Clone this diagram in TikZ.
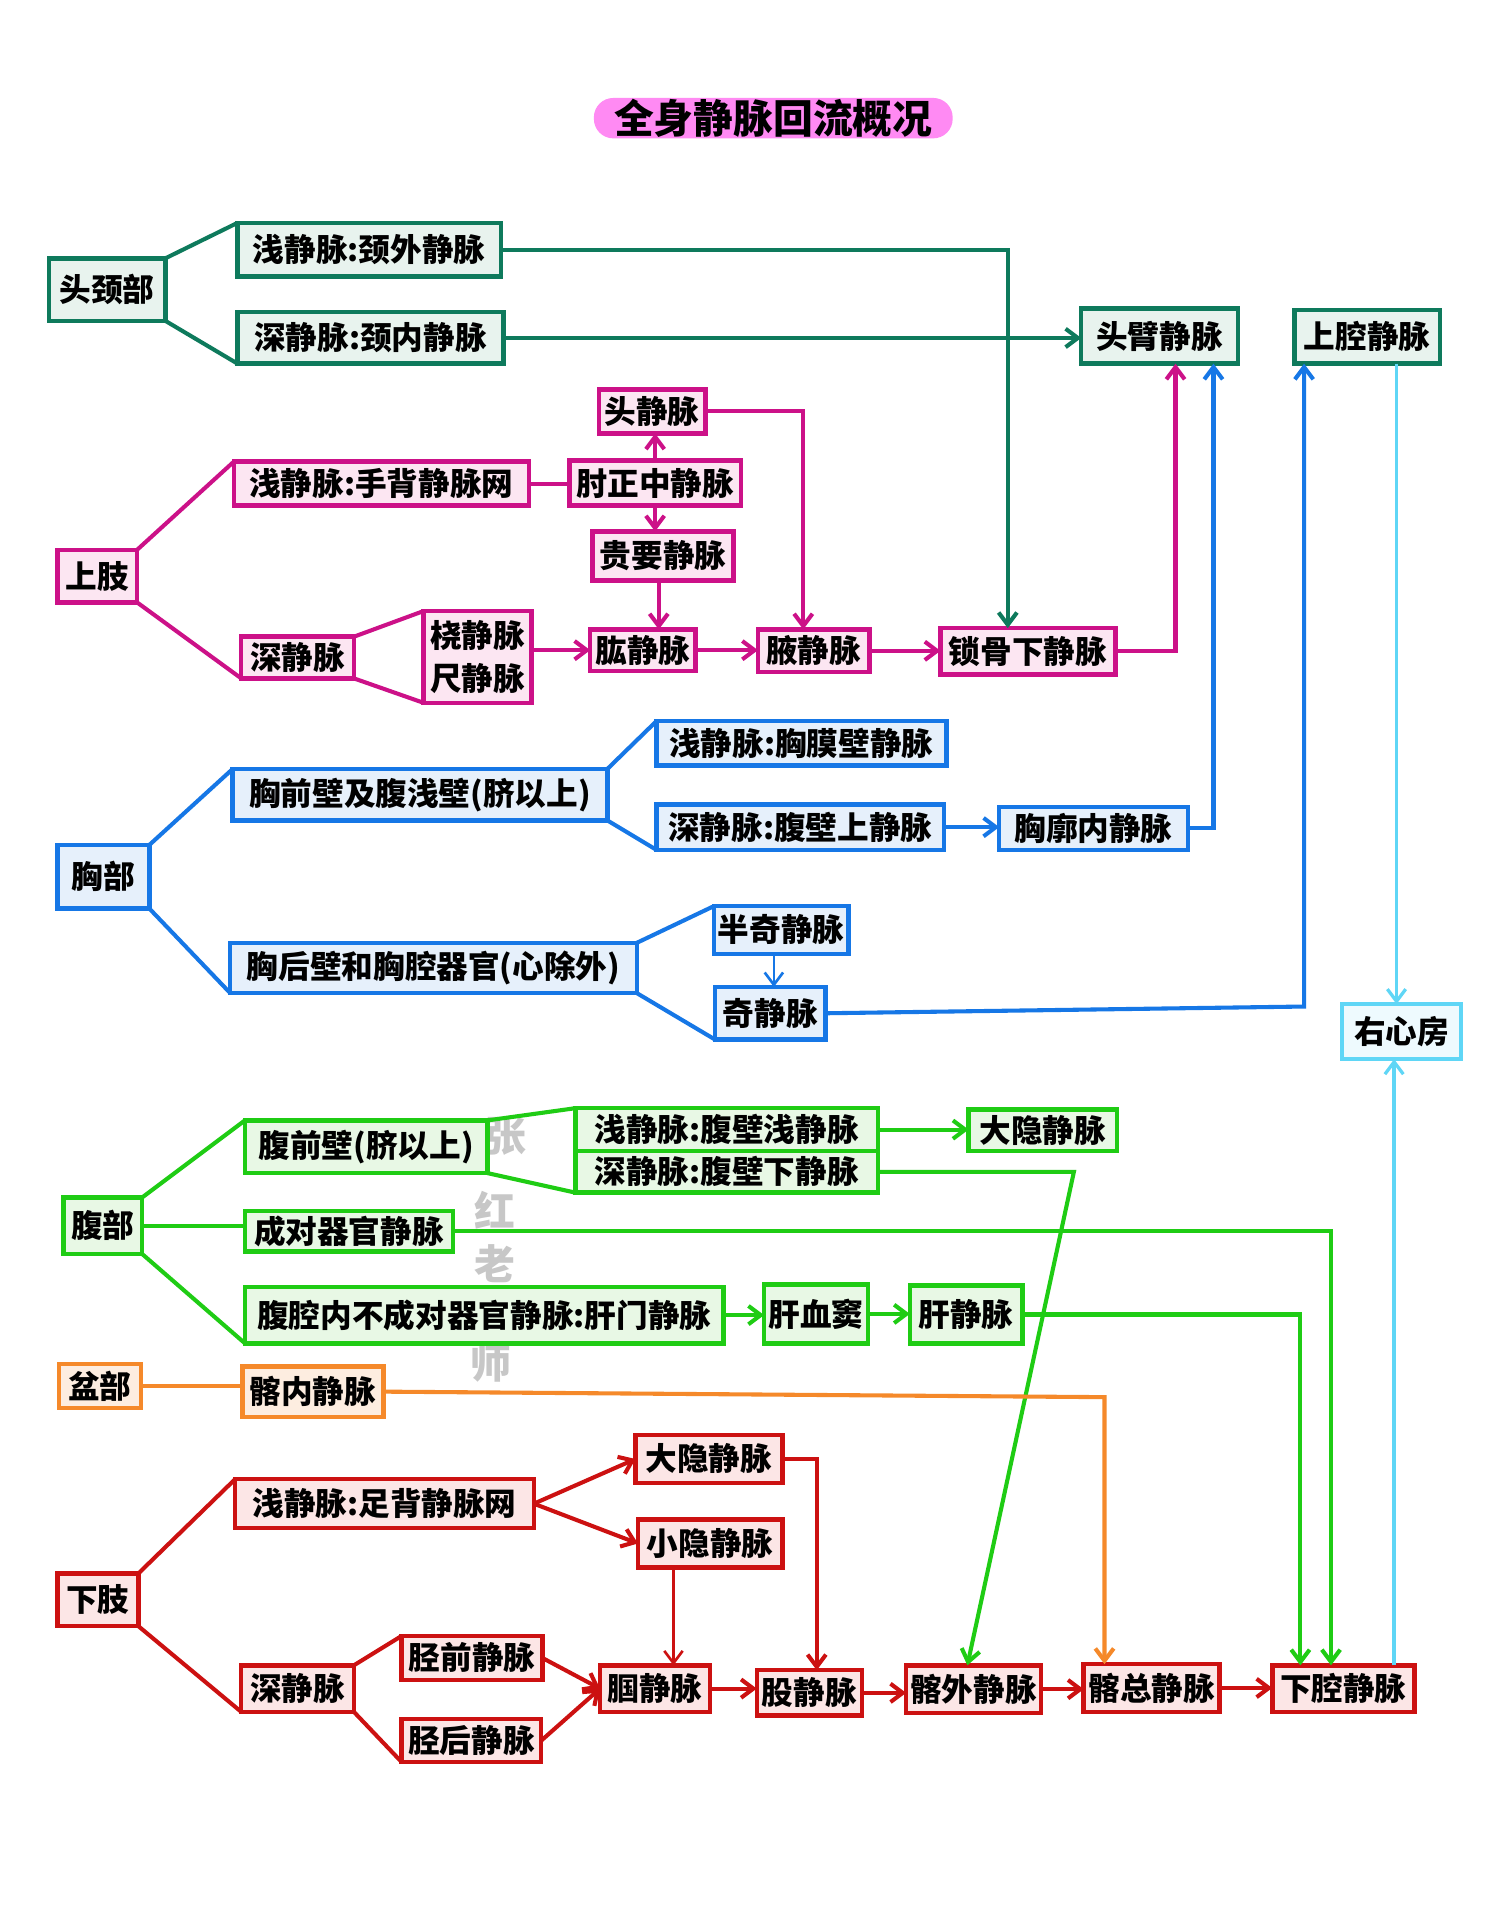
\documentclass[tikz,border=0pt]{standalone}
\usepackage{fontspec}
\setmainfont{Noto Sans CJK SC}
\usetikzlibrary{arrows.meta,calc}
\definecolor{cG}{HTML}{0E7A5C}\definecolor{cGf}{HTML}{E8F3EE}
\definecolor{cM}{HTML}{CC1188}\definecolor{cMf}{HTML}{FCE6F2}
\definecolor{cB}{HTML}{1677E6}\definecolor{cBf}{HTML}{E6F0FB}
\definecolor{cC}{HTML}{5FD6F6}\definecolor{cCf}{HTML}{EEFAFE}
\definecolor{cL}{HTML}{1FCC14}\definecolor{cLf}{HTML}{E8F8E5}
\definecolor{cO}{HTML}{F5892A}\definecolor{cOf}{HTML}{FDEDE0}
\definecolor{cR}{HTML}{CC1111}\definecolor{cRf}{HTML}{FCE6E6}
\definecolor{cT}{HTML}{FF8AF3}
\newcommand\bxfont{\fontsize{15.5}{19}\selectfont\bfseries}
\newcommand\mybox[7]{%
  \pgfmathsetmacro\myw{(#5-#3)*0.6}%
  \pgfmathsetmacro\myh{(#6-#4)*0.6}%
  \node[#1, minimum width=\myw pt, minimum height=\myh pt] (#2) at ({(#3+#5)/2},{(#4+#6)/2}) {#7};}
\tikzset{
  box/.style={draw, line width=2.2pt, inner sep=0pt, outer sep=0pt, align=center, font=\bxfont, anchor=center},
  gbox/.style={box, draw=cG, fill=cGf},
  mbox/.style={box, draw=cM, fill=cMf},
  bbox/.style={box, draw=cB, fill=cBf},
  cbox/.style={box, draw=cC, fill=cCf},
  lbox/.style={box, draw=cL, fill=cLf},
  obox/.style={box, draw=cO, fill=cOf},
  rbox/.style={box, draw=cR, fill=cRf},
  ln/.style={line width=2pt},
  thin ln/.style={line width=1.3pt},
  tip/.style={-{Straight Barb[length=6pt,width=9pt]}},
  wm/.style={text=black!22, font=\fontsize{20}{22}\selectfont\bfseries, inner sep=0pt},
}
\begin{document}
\begin{tikzpicture}[x=0.6pt,y=-0.6pt]
\useasboundingbox (0,0) rectangle (1214,1568);
\fill[white] (0,0) rectangle (1214,1568);
% watermark
\node[wm] (wm1) at (413,928) {张};
\node[wm] (wm2) at (404,988) {红};
\node[wm] (wm3) at (404,1032) {老};
\node[wm] (wm4) at (401,1113) {师};
% title
\mybox{box, draw=none, fill=cT, rounded corners=9.5pt, font=\fontsize{19.5}{22}\selectfont\bfseries}{title}{485}{80}{778}{113}{全身静脉回流概况}

% head & neck
\mybox{gbox}{tj}{40}{211}{135}{262}{头颈部}
\mybox{gbox}{jq}{194}{182}{409}{226}{浅静脉:颈外静脉}
\mybox{gbox}{jn}{194}{255}{411}{297}{深静脉:颈内静脉}
\mybox{gbox}{tb}{883}{252}{1011}{297}{头臂静脉}
\mybox{gbox}{sqv}{1057}{253}{1176}{297}{上腔静脉}
% upper limb
\mybox{mbox}{sz}{47}{449}{112}{492}{上肢}
\mybox{mbox}{sq}{191}{377}{432}{413}{浅静脉:手背静脉网}
\mybox{mbox}{zz}{465}{376}{605}{413}{肘正中静脉}
\mybox{mbox}{tjm}{489}{318}{576}{354}{头静脉}
\mybox{mbox}{gy}{484}{434}{599}{474}{贵要静脉}
\mybox{mbox}{sd}{197}{520}{289}{554}{深静脉}
\mybox{mbox}{rc}{346}{499}{434}{574}{桡静脉\\[2pt]尺静脉}
\mybox{mbox}{hg}{482}{514}{568}{548}{肱静脉}
\mybox{mbox}{yx}{619}{514}{710}{549}{腋静脉}
\mybox{mbox}{sgx}{768}{513}{911}{551}{锁骨下静脉}
% chest
\mybox{bbox}{xb}{47}{690}{122}{742}{胸部}
\mybox{bbox}{xq}{190}{628}{496}{670}{胸前壁及腹浅壁(脐以上)}
\mybox{bbox}{xqs}{536}{589}{773}{625}{浅静脉:胸膜壁静脉}
\mybox{bbox}{xqd}{536}{657}{771}{694}{深静脉:腹壁上静脉}
\mybox{bbox}{xk}{816}{659}{970}{694}{胸廓内静脉}
\mybox{bbox}{xh}{188}{770}{520}{811}{胸后壁和胸腔器官(心除外)}
\mybox{bbox}{bq}{583}{740}{693}{779}{半奇静脉}
\mybox{bbox}{qj}{584}{806}{674}{849}{奇静脉}
\mybox{cbox}{yxf}{1096}{820}{1193}{865}{右心房}
% abdomen
\mybox{lbox}{fb}{52}{978}{116}{1024}{腹部}
\mybox{lbox}{fq}{200}{915}{398}{958}{腹前壁(脐以上)}
\mybox{lbox}{fqs}{470}{905}{717}{940}{浅静脉:腹壁浅静脉}
\mybox{lbox}{fqd}{470}{940}{717}{974}{深静脉:腹壁下静脉}
\mybox{lbox}{dya}{791}{906}{912}{940}{大隐静脉}
\mybox{lbox}{cd}{200}{989}{370}{1022}{成对器官静脉}
\mybox{lbox}{fn}{200}{1051}{591}{1097}{腹腔内不成对器官静脉:肝门静脉}
\mybox{lbox}{xd}{624}{1049}{709}{1097}{肝血窦}
\mybox{lbox}{gj}{743}{1050}{835}{1097}{肝静脉}
% pelvis
\mybox{obox}{pb}{48}{1114}{115}{1150}{盆部}
\mybox{obox}{nn}{198}{1116}{313}{1157}{髂内静脉}
% lower limb
\mybox{rbox}{xz}{47}{1285}{113}{1328}{下肢}
\mybox{rbox}{zq}{192}{1208}{436}{1248}{浅静脉:足背静脉网}
\mybox{rbox}{dyb}{519}{1172}{639}{1211}{大隐静脉}
\mybox{rbox}{xy}{521}{1241}{639}{1280}{小隐静脉}
\mybox{rbox}{zd}{197}{1360}{289}{1398}{深静脉}
\mybox{rbox}{jqn}{328}{1336}{443}{1372}{胫前静脉}
\mybox{rbox}{jhn}{328}{1404}{442}{1439}{胫后静脉}
\mybox{rbox}{gw}{490}{1360}{580}{1398}{腘静脉}
\mybox{rbox}{gu}{618}{1364}{704}{1401}{股静脉}
\mybox{rbox}{jwv}{740}{1360}{850}{1399}{髂外静脉}
\mybox{rbox}{zj}{885}{1359}{996}{1398}{髂总静脉}
\mybox{rbox}{xqv}{1039}{1360}{1155}{1398}{下腔静脉}

% ---- connectors: head & neck
\begin{scope}[draw=cG, ln]
\draw (tj.north east) -- (jq.north west);
\draw (tj.south east) -- (jn.south west);
\draw[tip] (jq.east) -| ($(sgx.north west)+(55,0)$);
\draw[tip] (jn.east) -- (jn.east -| tb.west);
\end{scope}
% upper limb
\begin{scope}[draw=cM, ln]
\draw (sz.north east) -- (sq.north west);
\draw (sz.south east) -- (sd.south west);
\draw (sq.east) -- (sq.east -| zz.west);
\draw[tip] (zz.north) -- (zz.north |- tjm.south);
\draw[tip] (zz.south) -- (zz.south |- gy.north);
\draw[tip] ($(gy.south west)+(54,0)$) -- ($(hg.north west)+(56,0)$);
\draw[tip] (tjm.east) -| ($(yx.north west)+(37,0)$);
\draw (sd.north east) -- (rc.north west);
\draw (sd.south east) -- (rc.south west);
\draw[tip] (hg.west -| rc.east) -- (hg.west);
\draw[tip] (hg.east) -- (hg.east -| yx.west);
\draw[tip] (yx.east) -- (yx.east -| sgx.west);
\draw[tip] (sgx.east) -| ($(tb.south west)+(77,0)$);
\end{scope}
% chest
\begin{scope}[draw=cB, ln]
\draw (xb.north east) -- (xq.north west);
\draw (xb.south east) -- (xh.south west);
\draw (xq.north east) -- (xqs.north west);
\draw (xq.south east) -- (xqd.south west);
\draw[tip] (xqd.east) -- (xqd.east -| xk.west);
\draw[tip] (xk.east) -| ($(tb.south east)+(-20,0)$);
\draw (xh.north east) -- (bq.north west);
\draw (xh.south east) -- (qj.south west);
\draw[tip, thin ln] ($(bq.south west)+(49,0)$) -- ($(qj.north west)+(48,0)$);
\draw[tip] (qj.east) -- ($(sqv.south west)+(8,525)$) -- ($(sqv.south west)+(8,0)$);
\end{scope}
% right atrium
\begin{scope}[draw=cC, line width=1.6pt]
\draw[tip] ($(yxf.north)+(-4,-523)$) -- ($(yxf.north)+(-4,0)$);
\draw[tip] ($(yxf.south)+(-6,495)$) -- ($(yxf.south)+(-6,0)$);
\end{scope}
% abdomen
\begin{scope}[draw=cL, ln]
\draw (fb.north east) -- (fq.north west);
\draw (fb.east) -- (fb.east -| cd.west);
\draw (fb.south east) -- (fn.south west);
\draw (fq.north east) -- (fqs.north west);
\draw (fq.south east) -- (fqd.south west);
\draw[tip] (fqs.east) -- (fqs.east -| dya.west);
\draw[tip] (fqd.east) -- ($(fqd.east)+(160,0)$) -- ($(jwv.north west)+(50,0)$);
\draw[tip] (cd.east) -| ($(xqv.north west)+(48,0)$);
\draw[tip] (fn.east) -- (fn.east -| xd.west);
\draw[tip] (xd.east) -- (xd.east -| gj.west);
\draw[tip] (gj.east) -| ($(xqv.north west)+(23,0)$);
\end{scope}
% pelvis
\begin{scope}[draw=cO, ln]
\draw (pb.east) -- (pb.east -| nn.west);
\draw[tip] (nn.east) -- ($(zj.north west)+(17,-218)$) -- ($(zj.north west)+(17,0)$);
\end{scope}
% lower limb
\begin{scope}[draw=cR, ln]
\draw (xz.north east) -- (zq.north west);
\draw (xz.south east) -- (zd.south west);
\draw[tip] (zq.east) -- (dyb.west);
\draw[tip] (zq.east) -- (xy.west);
\draw[tip] (dyb.east) -| ($(gu.north west)+(49,0)$);
\draw[tip, thin ln] ($(xy.south west)+(29,0)$) -- ($(gw.north west)+(60,0)$);
\draw (zd.north east) -- (jqn.north west);
\draw (zd.south east) -- (jhn.south west);
\draw[tip] (jqn.east) -- (gw.west);
\draw[tip] (jhn.east) -- (gw.west);
\draw[tip] (gw.east) -- (gw.east -| gu.west);
\draw[tip] (gu.east) -- (gu.east -| jwv.west);
\draw[tip] (jwv.east) -- (jwv.east -| zj.west);
\draw[tip] (zj.east) -- (zj.east -| xqv.west);
\end{scope}
\end{tikzpicture}
\end{document}
